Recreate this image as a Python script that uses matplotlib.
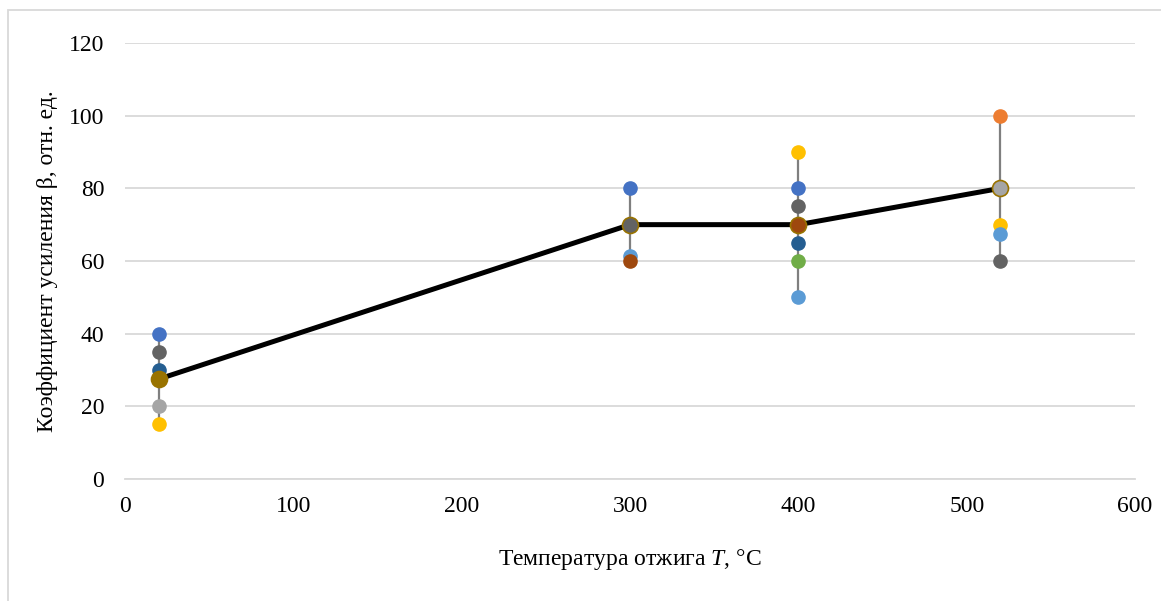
import matplotlib
matplotlib.use('Agg')
import matplotlib.pyplot as plt
from matplotlib.patches import Rectangle

plt.rcParams['font.family'] = ['Liberation Serif', 'DejaVu Serif']
plt.rcParams['mathtext.fontset'] = 'custom'
plt.rcParams['mathtext.rm'] = 'Liberation Serif'
plt.rcParams['mathtext.it'] = 'Liberation Serif:italic'

# data
temps = [20, 300, 400, 520]
beta_20 = [40, 35, 30, 20, 15]
beta_300 = [80, 61.5, 60]
beta_400 = [90, 80, 75, 65, 60, 50]
beta_520 = [100, 70, 67.5, 60]
beta_mean = [27.5, 70, 70, 80]

# point colours (Office palette)
col_20 = ['#4472C4', '#636363', '#255E91', '#A5A5A5', '#FFC000']
col_300 = ['#4472C4', '#5B9BD5', '#9E480E']
col_400 = ['#FFC000', '#4472C4', '#636363', '#255E91', '#70AD47', '#5B9BD5']
col_520 = ['#ED7D31', '#FFC000', '#5B9BD5', '#636363']
col_mean = ['#997300', '#636363', '#9E480E', '#A5A5A5']

groups = [beta_20, beta_300, beta_400, beta_520]
colors = [col_20, col_300, col_400, col_520]

fig = plt.figure(figsize=(11.61, 6.01), dpi=100)
ax = fig.add_axes([0.1077, 0.203, 0.870, 0.7255])

# spread lines min..max
for t, vals, m in zip(temps, groups, beta_mean):
    lo = min(vals + [m])
    hi = max(vals + [m])
    ax.plot([t, t], [lo, hi], color='#7F7F7F', lw=1.6, zorder=2)

ax.plot(temps, beta_mean, color='black', lw=3.6, zorder=3, solid_capstyle='butt')

for t, vals, cols in zip(temps, groups, colors):
    for v, c in zip(vals, cols):
        ax.plot(t, v, 'o', ms=9.5, color=c, mec=c, zorder=4)

for t, m, c in zip(temps, beta_mean, col_mean):
    ax.plot(t, m, 'o', ms=11.5, color=c, mec='#997300', mew=1.2, zorder=5)

ax.set_xlim(0, 600)
ax.set_ylim(0, 120)
ax.set_xticks(range(0, 601, 100))
ax.set_yticks(range(0, 121, 20))
ax.yaxis.grid(True, color='#D9D9D9', lw=1.3)
ax.set_axisbelow(True)
for s in ['top', 'right', 'left']:
    ax.spines[s].set_visible(False)
ax.spines['bottom'].set_color('#D9D9D9')
ax.spines['bottom'].set_linewidth(1.3)
ax.tick_params(length=0, labelsize=17)
ax.tick_params(axis='x', pad=12)
ax.tick_params(axis='y', pad=15)

ax.set_xlabel('Температура отжига $\\mathit{T}$, °C', fontsize=17, labelpad=22)
fig.text(0.041, 0.565, 'Коэффициент усиления β, отн. ед.', rotation=90,
         fontsize=17, ha='center', va='center')

fig.patches.append(Rectangle((8 / 1161, -0.02), 1.1, 1 - 10 / 601 + 0.02,
                             transform=fig.transFigure, fill=False,
                             edgecolor='#D9D9D9', lw=1.3))

fig.savefig('out.png', dpi=100)
